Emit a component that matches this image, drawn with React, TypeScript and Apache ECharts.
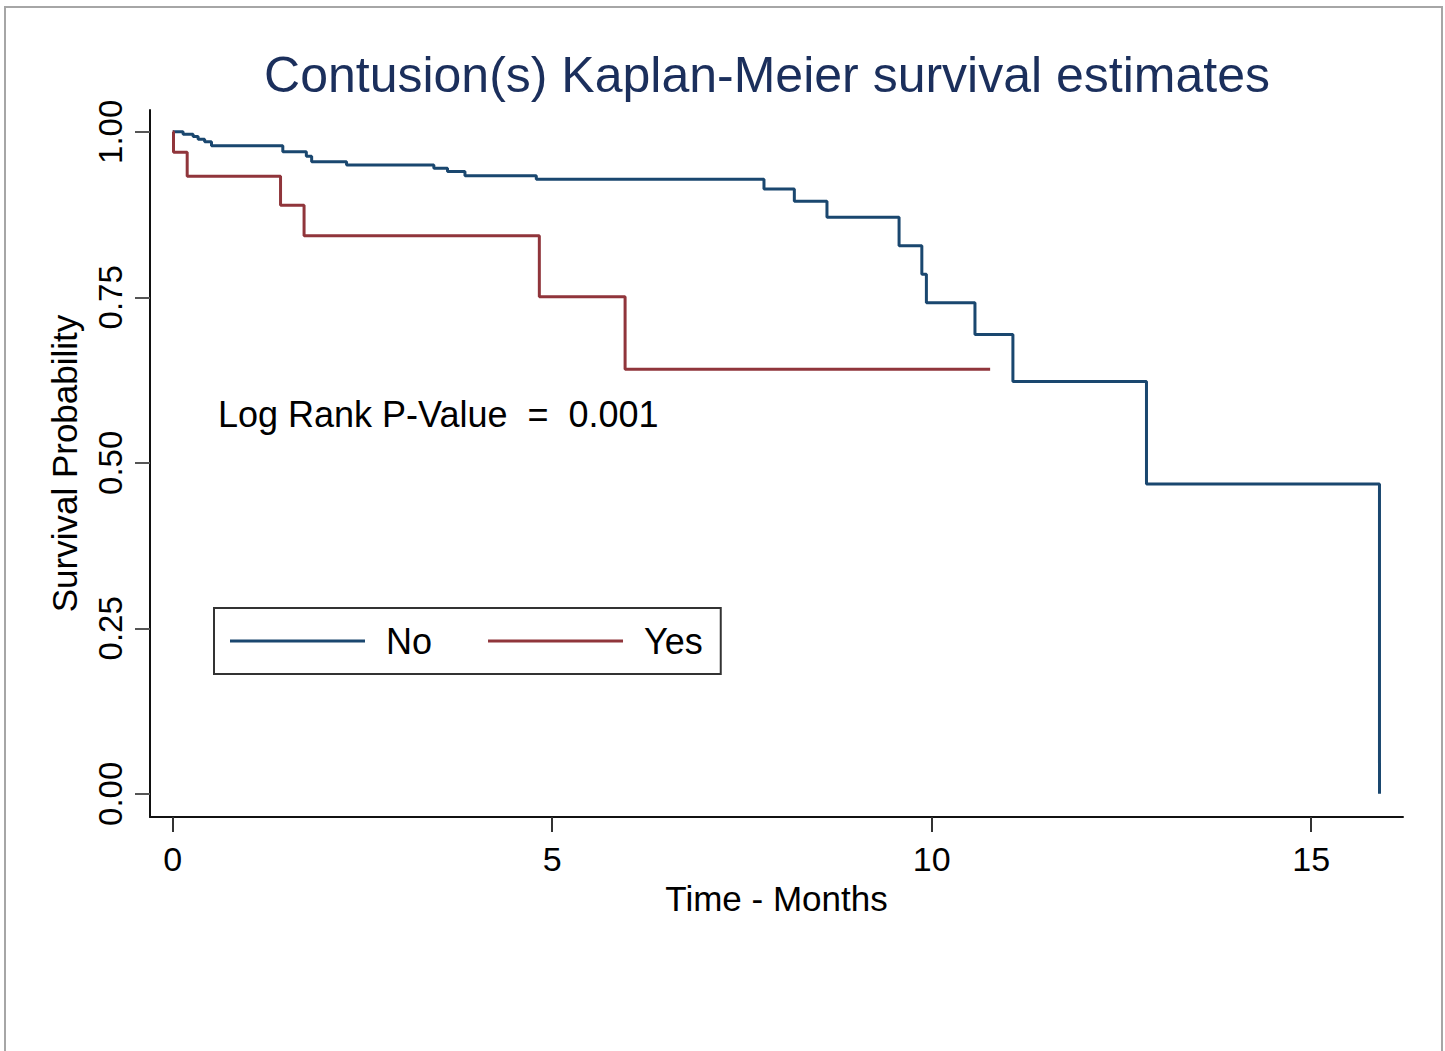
import React, { useEffect, useRef } from "react";
import * as echarts from "echarts";

// Kaplan-Meier step points: [time (months), survival probability after the event]
const noTimes = [0, 0.136, 0.268, 0.334, 0.42, 0.51, 1.45, 1.76, 1.83, 2.29, 3.44, 3.62, 3.85, 4.79, 7.79, 8.19, 8.62, 9.57, 9.87, 9.93, 10.57, 11.07, 12.83, 15.9];
const noSurv = [1.0, 0.9965, 0.993, 0.989, 0.985, 0.979, 0.97, 0.963, 0.955, 0.95, 0.945, 0.94, 0.9335, 0.9285, 0.9135, 0.895, 0.871, 0.828, 0.785, 0.742, 0.694, 0.623, 0.468, 0.0];

const yesTimes = [0, 0.01, 0.19, 1.42, 1.73, 4.83, 5.96, 10.77];
const yesSurv = [1.0, 0.969, 0.933, 0.889, 0.843, 0.751, 0.6415, 0.6415];

const xTicks = [0, 5, 10, 15];
const yTicks = [0, 0.25, 0.5, 0.75, 1.0];

const groupNames = ["No", "Yes"];
const titleText = "Contusion(s) Kaplan-Meier survival estimates";
const annotation = "Log Rank P-Value  =  0.001";

const FONT = "'Liberation Sans', Arial, sans-serif";

export default function App() {
  const ref = useRef<HTMLDivElement>(null);
  useEffect(() => {
    if (!ref.current) return;
    const chart = echarts.init(ref.current, undefined, { renderer: "svg" });
    const noData = noTimes.map((t, i) => [t, noSurv[i]]);
    const yesData = yesTimes.map((t, i) => [t, yesSurv[i]]);
    chart.setOption({
      animation: false,
      backgroundColor: "#ffffff",
      textStyle: { fontFamily: FONT },
      grid: { left: 150, right: 42, top: 110, bottom: 234 },
      xAxis: {
        type: "value",
        min: -0.3,
        max: 16.21,
        name: "Time - Months",
        nameLocation: "middle",
        nameGap: 60,
        nameTextStyle: { fontFamily: FONT, fontSize: 35, color: "#000" },
        axisLine: { show: true, onZero: false, lineStyle: { color: "#111", width: 2 } },
        axisTick: { show: true, customValues: xTicks, length: 15, lineStyle: { color: "#333", width: 2 } },
        axisLabel: { customValues: xTicks, margin: 25, fontFamily: FONT, fontSize: 34, color: "#000" },
        splitLine: { show: false },
      },
      yAxis: {
        type: "value",
        min: -0.035,
        max: 1.033,
        name: "Survival Probability",
        nameLocation: "middle",
        nameGap: 68,
        nameRotate: 90,
        nameTextStyle: { fontFamily: FONT, fontSize: 35, color: "#000" },
        axisLine: { show: true, onZero: false, lineStyle: { color: "#111", width: 2 } },
        axisTick: { show: true, customValues: yTicks, length: 15, lineStyle: { color: "#555", width: 2 } },
        axisLabel: {
          customValues: yTicks,
          rotate: 90,
          margin: 23,
          fontFamily: FONT,
          fontSize: 33,
          color: "#000",
          formatter: (v: number) => v.toFixed(2),
        },
        splitLine: { show: false },
      },
      legend: {
        data: groupNames,
        left: 214,
        top: 608,
        orient: "horizontal",
        icon: "rect",
        itemWidth: 135,
        itemHeight: 3,
        itemGap: 56,
        padding: [15, 18, 15, 16],
        borderColor: "#333",
        borderWidth: 2,
        backgroundColor: "#fff",
        textStyle: { fontFamily: FONT, fontSize: 36, color: "#000", padding: [0, 0, 0, 16], lineHeight: 36 },
      },
      series: [
        {
          name: groupNames[0],
          type: "line",
          step: "end",
          data: noData,
          symbol: "none",
          lineStyle: { color: "#1a476f", width: 3 },
          itemStyle: { color: "#1a476f" },
        },
        {
          name: groupNames[1],
          type: "line",
          step: "end",
          data: yesData,
          symbol: "none",
          lineStyle: { color: "#90353b", width: 3 },
          itemStyle: { color: "#90353b" },
        },
      ],
      graphic: [
        {
          type: "rect",
          shape: { x: 5, y: 7, width: 1437, height: 1100 },
          style: { fill: "none", stroke: "#a6a6a6", lineWidth: 2 },
          silent: true,
        },
        {
          type: "text",
          x: 767,
          y: 75,
          style: {
            text: titleText,
            fontFamily: FONT,
            fontSize: 50,
            fill: "#1b2f5c",
            textAlign: "center",
            textVerticalAlign: "middle",
          },
        },
        {
          type: "text",
          x: 218,
          y: 414,
          style: {
            text: annotation,
            fontFamily: FONT,
            fontSize: 36,
            fill: "#000",
            textAlign: "left",
            textVerticalAlign: "middle",
          },
        },
      ],
    });
    return () => chart.dispose();
  }, []);
  return (
    <div
      ref={ref}
      style={{ position: "fixed", left: 0, top: 0, width: 1445, height: 1051, background: "#fff" }}
    />
  );
}
